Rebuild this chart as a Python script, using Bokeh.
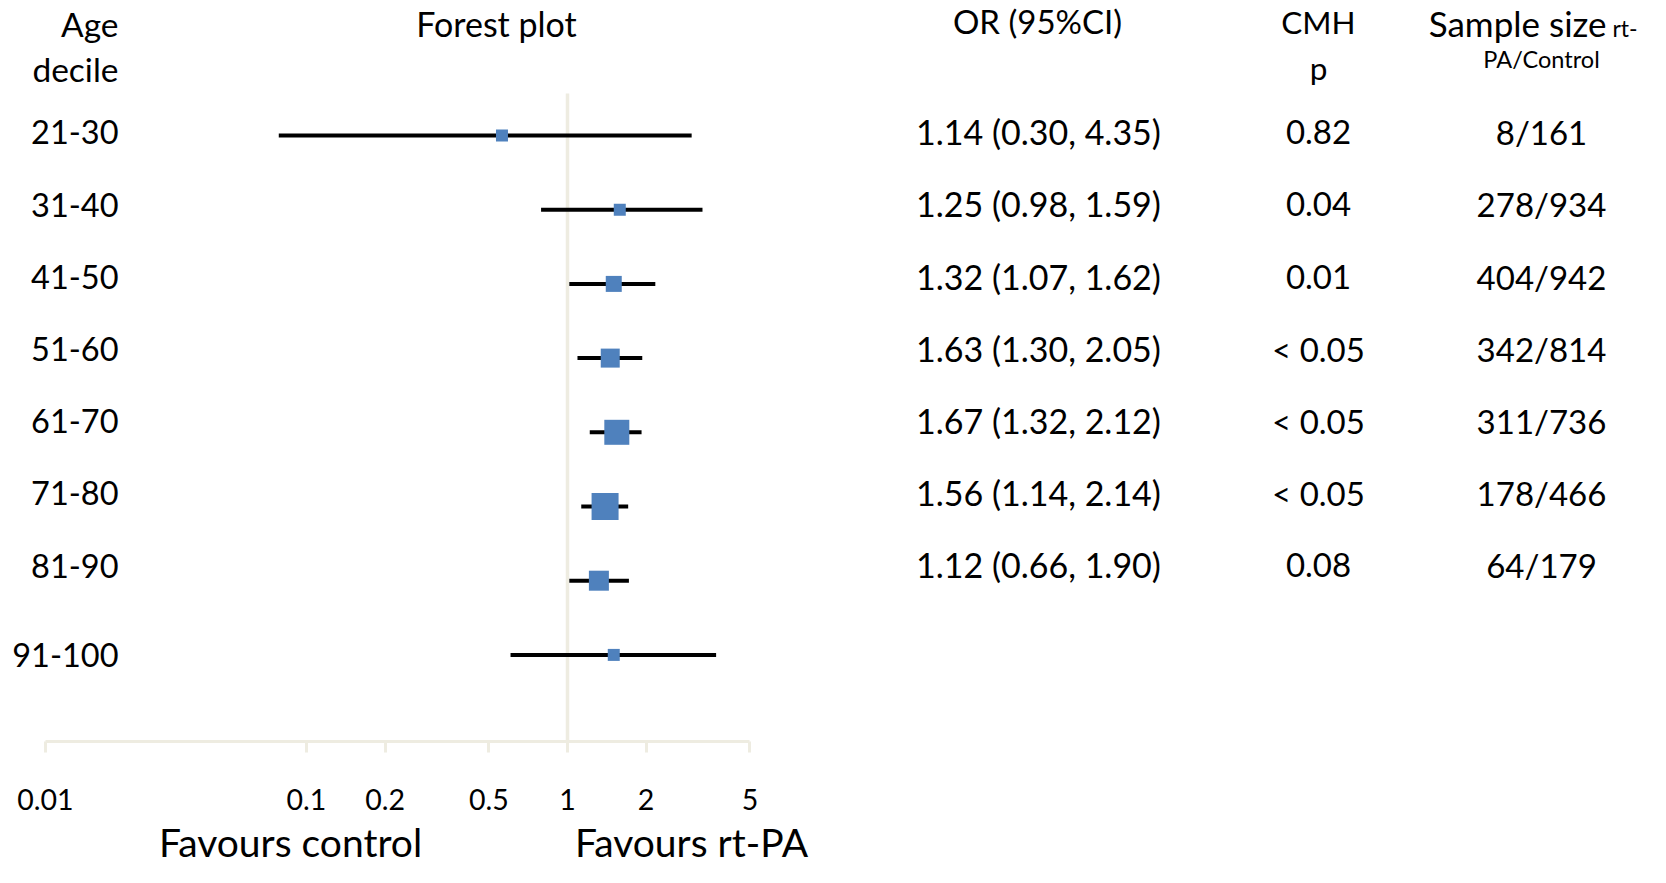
from bokeh.plotting import figure
from bokeh.models import Range1d, LinearScale, FixedTicker
from bokeh.models import ColumnDataSource
from bokeh.core.properties import value
from bokeh.embed import file_html
from bokeh.resources import INLINE

# ---------------- data ----------------
age_deciles = ["21-30", "31-40", "41-50", "51-60", "61-70", "71-80", "81-90", "91-100"]
or_point = [0.561, 1.586, 1.504, 1.458, 1.545, 1.393, 1.319, 1.504]
ci_low = [0.0783, 0.792, 1.016, 1.092, 1.217, 1.129, 1.016, 0.605]
ci_high = [2.99, 3.29, 2.17, 1.934, 1.922, 1.708, 1.719, 3.71]
or_text = ["1.14 (0.30, 4.35)", "1.25 (0.98, 1.59)", "1.32 (1.07, 1.62)",
           "1.63 (1.30, 2.05)", "1.67 (1.32, 2.12)", "1.56 (1.14, 2.14)",
           "1.12 (0.66, 1.90)"]
cmh_p = ["0.82", "0.04", "0.01", "< 0.05", "< 0.05", "< 0.05", "0.08"]
sample_size = ["8/161", "278/934", "404/942", "342/814", "311/736", "178/466", "64/179"]
axis_ticks = [0.01, 0.1, 0.2, 0.5, 1, 2, 5]
axis_tick_labels = ["0.01", "0.1", "0.2", "0.5", "1", "2", "5"]

# ---------------- layout / style ----------------
W, H = 1650, 867
PX_PER_DEC = 261.0           # pixels per decade on the OR axis
X_ONE = 567                  # px of OR = 1
AXIS_Y = 741                 # px of the axis line
ROW0 = 135.0                 # px of first forest row
ROW_STEP = 74.2
FONT = value("Lato")
BLUE = "#4F81BD"
BEIGE = "#EEECE1"
marker_px = [12, 12, 16, 19, 25, 27, 20, 12]

x_start = 10 ** ((0 - X_ONE) / PX_PER_DEC)
x_end = 10 ** ((W - X_ONE) / PX_PER_DEC)
y_bottom = (H - ROW0) / ROW_STEP
y_top = (0 - ROW0) / ROW_STEP

p = figure(width=W, height=H, x_axis_type="log", y_axis_location=None,
           x_range=Range1d(x_start, x_end), y_range=Range1d(y_bottom, y_top),
           output_backend="svg", toolbar_location=None,
           min_border_left=0, min_border_right=0, min_border_top=0,
           min_border_bottom=0)
p.extra_x_ranges = {"px": Range1d(0, W)}
p.extra_y_ranges = {"px": Range1d(H, 0)}
p.extra_x_scales = {"px": LinearScale()}
p.extra_y_scales = {"px": LinearScale()}
p.outline_line_color = None
p.grid.visible = False
p.background_fill_color = "white"
p.border_fill_color = "white"

# OR axis, fixed at the bottom of the forest panel
ax = p.xaxis[0]
ax.fixed_location = (AXIS_Y - ROW0) / ROW_STEP
ax.ticker = FixedTicker(ticks=axis_ticks, minor_ticks=[])
ax.major_label_overrides = {t: l for t, l in zip(axis_ticks, axis_tick_labels)}
ax.bounds = (axis_ticks[0], axis_ticks[-1])
ax.axis_line_color = BEIGE
ax.axis_line_width = 3
ax.major_tick_line_color = BEIGE
ax.major_tick_line_width = 3
ax.major_tick_in = 0
ax.major_tick_out = 11
ax.minor_tick_line_color = None
ax.major_label_text_font = "Lato"
ax.major_label_text_font_size = "28.5px"
ax.major_label_text_color = "black"
ax.major_label_standoff = 36

# reference line at OR = 1
p.segment(x0=[1], y0=[93], x1=[1], y1=[AXIS_Y], y_range_name="px",
          line_color=BEIGE, line_width=3.5)

src = ColumnDataSource(dict(row=list(range(len(age_deciles))), est=or_point,
                            lo=ci_low, hi=ci_high, size=marker_px))
p.segment(x0="lo", y0="row", x1="hi", y1="row", source=src,
          line_color="black", line_width=4)
p.scatter(x="est", y="row", size="size", marker="square", source=src,
          fill_color=BLUE, line_color=None)


def txt(xs, baselines, texts, size, align="center"):
    # visual centre of capitals sits ~0.36 em above the baseline
    ys = [b - 0.36 * size - 1.5 for b in baselines]
    p.text(x=xs, y=ys, text=texts, x_range_name="px", y_range_name="px",
           text_font=FONT, text_font_size=value(f"{size}px"), text_align=align,
           text_baseline="alphabetic", text_color="black")


# row baselines
base = [145 + 72.2 * i for i in range(7)] + [668]

txt([118] * len(age_deciles), base, age_deciles, 32.5, "right")
txt([1038] * len(or_text), base[:7], or_text, 34)
txt([1318] * len(cmh_p), base[:7], cmh_p, 33)
txt([1541] * len(sample_size), base[:7], sample_size, 33)

# headers
txt([118, 118], [37, 82], ["Age", "decile"], 33.5, "right")
txt([496], [37], ["Forest plot"], 34)
txt([1037], [34], ["OR (95%CI)"], 33)
txt([1318, 1318], [34, 80], ["CMH", "p"], 31.5)
txt([1606], [37], ["Sample size"], 35, "right")
txt([1612], [37], ["rt-"], 23, "left")
txt([1541], [68], ["PA/Control"], 23.5)

# favours labels under the axis (kept fully inside the canvas)
txt([290, 691], [857, 857], ["Favours control", "Favours rt-PA"], 39)

open("out.html", "w").write(file_html(p, INLINE))
